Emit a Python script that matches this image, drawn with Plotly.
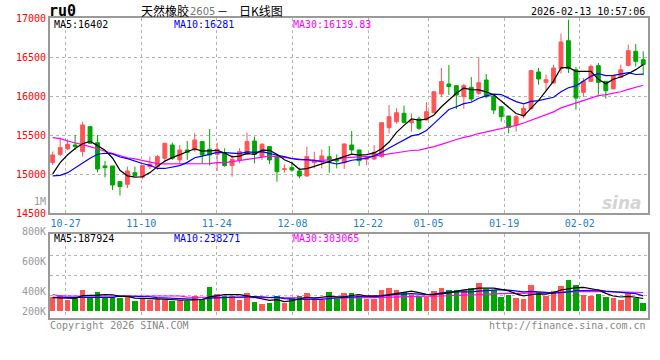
import plotly.graph_objects as go
import pandas as pd

# ---------------- data ----------------
dates = [d.strftime("%m-%d") for d in pd.bdate_range("2025-10-23", "2026-02-13")
         if d.strftime("%Y-%m-%d") not in ("2026-01-01", "2026-01-02")]

opens = [15150, 15256, 15325, 15376, 15291, 15611, 15406, 15107, 15107, 14906,
         14872, 15021, 14962, 15098, 15098, 15205, 15376, 15184, 15312, 15312,
         15419, 15321, 15257, 15278, 15111, 15184, 15257, 15427, 15227, 15355,
         15227, 15062, 15085, 15042, 14978, 15149, 15162, 15226, 15196, 15149,
         15376, 15312, 15192, 15196, 15226, 15598, 15675, 15782, 15662, 15710,
         15696, 15790, 16030, 16158, 16136, 15995, 16115, 16038, 16209, 16004,
         15867, 15748, 15632, 15748, 15842, 16312, 16179, 16171, 16354, 16713,
         16340, 16051, 16192, 16393, 16192, 16098, 16243, 16397, 16577, 16470]
highs = [15291, 15474, 15449, 15504, 15675, 15620, 15504, 15171, 15107, 14906,
         15098, 15098, 15111, 15227, 15248, 15406, 15406, 15376, 15427, 15526,
         15419, 15581, 15406, 15334, 15248, 15334, 15534, 15483, 15398, 15355,
         15248, 15128, 15162, 15085, 15354, 15290, 15320, 15363, 15256, 15397,
         15555, 15312, 15226, 15376, 15662, 15889, 15846, 15880, 15780, 15739,
         15925, 16059, 16365, 16401, 16140, 16160, 16247, 16498, 16286, 16004,
         15867, 15748, 15760, 15889, 16342, 16363, 16277, 16406, 16803, 16982,
         16376, 16235, 16406, 16427, 16192, 16277, 16406, 16662, 16670, 16576]
lows = [15120, 15235, 15312, 15312, 15227, 15390, 15026, 14962, 14799, 14727,
        14821, 14983, 14936, 15068, 15056, 15150, 15184, 15141, 15184, 15291,
        15141, 15111, 15043, 15098, 14970, 15141, 15248, 15141, 15184, 15133,
        14906, 15021, 15034, 14948, 14970, 15077, 15077, 15021, 15077, 15068,
        15248, 15107, 15119, 15184, 15213, 15525, 15650, 15650, 15547, 15568,
        15696, 15790, 15995, 16017, 15837, 15840, 15931, 16017, 15974, 15773,
        15675, 15525, 15547, 15718, 15829, 16149, 16072, 16162, 16290, 16300,
        15829, 15991, 16183, 16021, 15970, 16085, 16235, 16384, 16384, 16269]
closes = [15248, 15342, 15385, 15355, 15633, 15398, 15068, 15085, 14863, 14842,
          15043, 14983, 15111, 15128, 15227, 15398, 15205, 15312, 15282, 15440,
          15248, 15248, 15321, 15111, 15193, 15291, 15419, 15257, 15385, 15184,
          15034, 15070, 15055, 14978, 15226, 15183, 15235, 15184, 15171, 15389,
          15312, 15175, 15213, 15282, 15662, 15739, 15790, 15666, 15690, 15589,
          15803, 16059, 16188, 16124, 16017, 16136, 15965, 16175, 15995, 15824,
          15739, 15602, 15739, 15846, 16329, 16222, 16213, 16363, 16696, 16354,
          15978, 16192, 16384, 16179, 16072, 16265, 16341, 16585, 16448, 16406]
volumes = [259000, 290000, 197000, 259000, 383000, 259000, 346000, 241000, 247000, 241000,
           247000, 185000, 241000, 197000, 216000, 197000, 185000, 197000, 185000, 271000,
           197000, 438000, 309000, 271000, 271000, 197000, 327000, 160000, 123000, 148000,
           271000, 148000, 228000, 271000, 327000, 197000, 197000, 346000, 210000, 327000,
           327000, 271000, 210000, 210000, 383000, 413000, 383000, 346000, 290000, 247000,
           247000, 364000, 413000, 383000, 383000, 383000, 420000, 512000, 395000, 383000,
           259000, 290000, 234000, 216000, 475000, 346000, 271000, 364000, 457000, 568000,
           475000, 290000, 271000, 309000, 259000, 234000, 197000, 327000, 228000, 142000]

# moving-average values at the start of the window (history before the window)
ma5_head = [15005, 15150, 15250, 15330]
ma10_head = [14979, 14987, 15021, 15086, 15141, 15205, 15257, 15270, 15261]
ma30_head = [15470, 15457, 15427, 15406, 15385, 15355, 15325, 15295, 15265, 15235,
             15210, 15197, 15175, 15150, 15137, 15133, 15133, 15128, 15128, 15133,
             15133, 15137, 15150, 15150, 15162, 15175, 15192, 15205, 15215]
vma5_head = [240000, 235000, 230000, 230000]
vma10_head = [247000, 247000, 247000, 247000, 247000, 247000, 247000, 247000, 247000]
vma30_head = [300000, 272000, 272000, 272000, 272000, 272000, 272000, 272000, 272000, 272000,
              272000, 272000, 272000, 272000, 272000, 272000, 272000, 272000, 250000, 250000,
              250000, 250000, 250000, 250000, 250000, 250000, 250000, 250000, 250000]

price_ticks = [14500, 15000, 15500, 16000, 16500, 17000]
tick_dates = ["10-27", "11-10", "11-24", "12-08", "12-22", "01-05", "01-19", "02-02"]
vol_tick_labels = ["800K", "600K", "400K", "200K"]

title_code = "ru0"
title_name = "天然橡胶"
title_contract = "2605"
title_kind = "日K线图"
timestamp = "2026-02-13 10:57:06"
legend_price = ["MA5:16402", "MA10:16281", "MA30:16139.83"]
legend_vol = ["MA5:187924", "MA10:238271", "MA30:303065"]


def moving_avg(vals, n, head):
    out = list(head)
    for i in range(len(head), len(vals)):
        out.append(sum(vals[i - n + 1:i + 1]) / n)
    return out


idx = list(range(len(dates)))
ma5 = moving_avg(closes, 5, ma5_head)
ma10 = moving_avg(closes, 10, ma10_head)
ma30 = moving_avg(closes, 30, ma30_head)
vma5 = moving_avg(volumes, 5, vma5_head)
vma10 = moving_avg(volumes, 10, vma10_head)
vma30 = moving_avg(volumes, 30, vma30_head)

# ---------------- styling ----------------
RED = "#ff5555"
GREEN = "#00a600"
BLUE = "#0000ff"
MAG = "#ff00ff"
GRID = "#b4b4b4"
BORDER = "#9a9a9a"
MONO = "DejaVu Sans Mono"
CJK = "Noto Sans CJK SC"

# gridlines of the date axis drift slightly relative to candle slots
tick_x = [dates.index(d) * 1.0113 - 0.29 for d in tick_dates]

vol_colors = [RED if c >= o else GREEN for o, c in zip(opens, closes)]

fig = go.Figure()
fig.add_trace(go.Candlestick(
    x=idx, open=opens, high=highs, low=lows, close=closes,
    increasing=dict(line=dict(color=RED, width=1), fillcolor=RED),
    decreasing=dict(line=dict(color=GREEN, width=1), fillcolor=GREEN),
    whiskerwidth=0, showlegend=False, hoverinfo="skip", xaxis="x", yaxis="y"))
for ser, col in ((ma30, MAG), (ma10, BLUE), (ma5, "#000000")):
    fig.add_trace(go.Scatter(x=idx, y=ser, mode="lines", line=dict(color=col, width=1.2),
                             showlegend=False, hoverinfo="skip", xaxis="x", yaxis="y"))

fig.add_trace(go.Bar(x=idx, y=volumes, marker=dict(color=vol_colors, line=dict(width=0)),
                     width=0.75, showlegend=False, hoverinfo="skip", xaxis="x2", yaxis="y2"))
for ser, col in ((vma30, MAG), (vma10, BLUE), (vma5, "#000000")):
    fig.add_trace(go.Scatter(x=idx, y=ser, mode="lines", line=dict(color=col, width=1.2),
                             showlegend=False, hoverinfo="skip", xaxis="x2", yaxis="y2"))


def px(x):
    return (x - 50) / 600.0


def py(y):
    return (318 - y) / 300.0


ann = []


def note(text, x, y, color, size=10, xanchor="left", family=MONO, **kw):
    ann.append(dict(text=text, x=px(x), y=py(y), xref="paper", yref="paper",
                    xanchor=xanchor, yanchor="middle", showarrow=False,
                    font=dict(family=family, size=size, color=color), **kw))


note("<b>" + title_code + "</b>", 47, 11, "#000000", size=15)
note(title_name, 139, 11, "#000000", size=12, family=CJK)
note(title_contract, 188, 12, "#777777", size=10, family="DejaVu Sans")
note("－", 223, 11, "#000000", size=11, xanchor="center", family=CJK)
note(title_kind, 238, 11, "#000000", size=12, family=CJK)
note(timestamp, 649, 12, "#000000", size=10, xanchor="right")

for t, xx, col in zip(legend_price, (52, 172, 292), ("#000000", BLUE, MAG)):
    note(t, xx, 25, col)
for t, xx, col in zip(legend_vol, (52, 172, 292), ("#000000", BLUE, MAG)):
    note(t, xx, 238, col)

for t, yy in zip(vol_tick_labels, (231, 261, 291, 311)):
    note(t, 48, yy, "#999999", xanchor="right")
note("1M", 48, 201, "#999999", xanchor="right")
note("Copyright 2026 SINA.COM", 48, 325, "#888888")
note("http://finance.sina.com.cn", 650, 325, "#888888", xanchor="right")
note("<b><i>sina</i></b>", 624, 203, "#d4d4d4", size=17, xanchor="center", family="DejaVu Sans")

axis_common = dict(showgrid=True, gridcolor=GRID, griddash="dot", gridwidth=1,
                   showline=True, linecolor=BORDER, linewidth=2, mirror=True,
                   zeroline=False, ticks="", fixedrange=True)

fig.update_layout(
    width=660, height=360,
    margin=dict(l=50, r=10, t=18, b=42),
    paper_bgcolor="white", plot_bgcolor="white",
    boxgap=0.26,
    bargap=0,
    annotations=ann,
    xaxis=dict(domain=[0, 1], anchor="y", range=[-0.36, 79.64],
               tickvals=tick_x, ticktext=tick_dates, ticklen=0,
               tickfont=dict(family=MONO, size=10, color="#2080d0"),
               rangeslider=dict(visible=False), **axis_common),
    yaxis=dict(domain=[0.349, 1], anchor="x", range=[14500, 17004],
               tickvals=price_ticks, ticktext=[str(v) for v in price_ticks],
               tickfont=dict(family=MONO, size=10, color="#ff0000"),
               **axis_common),
    xaxis2=dict(domain=[0, 1], anchor="y2", range=[-0.36, 79.64],
                tickvals=tick_x, showticklabels=False, **axis_common),
    yaxis2=dict(domain=[0, 0.279], anchor="x2", range=[-135000, 1414000],
                tickvals=[276000, 655000, 1031000], showticklabels=False,
                **axis_common),
)

fig.write_html("out.html",
               config={"displayModeBar": False, "staticPlot": True},
               post_script=("document.documentElement.style.overflow='hidden';"
                            "document.body.style.margin='0';"
                            "document.body.style.padding='0';"
                            "document.body.style.overflow='hidden';"))
